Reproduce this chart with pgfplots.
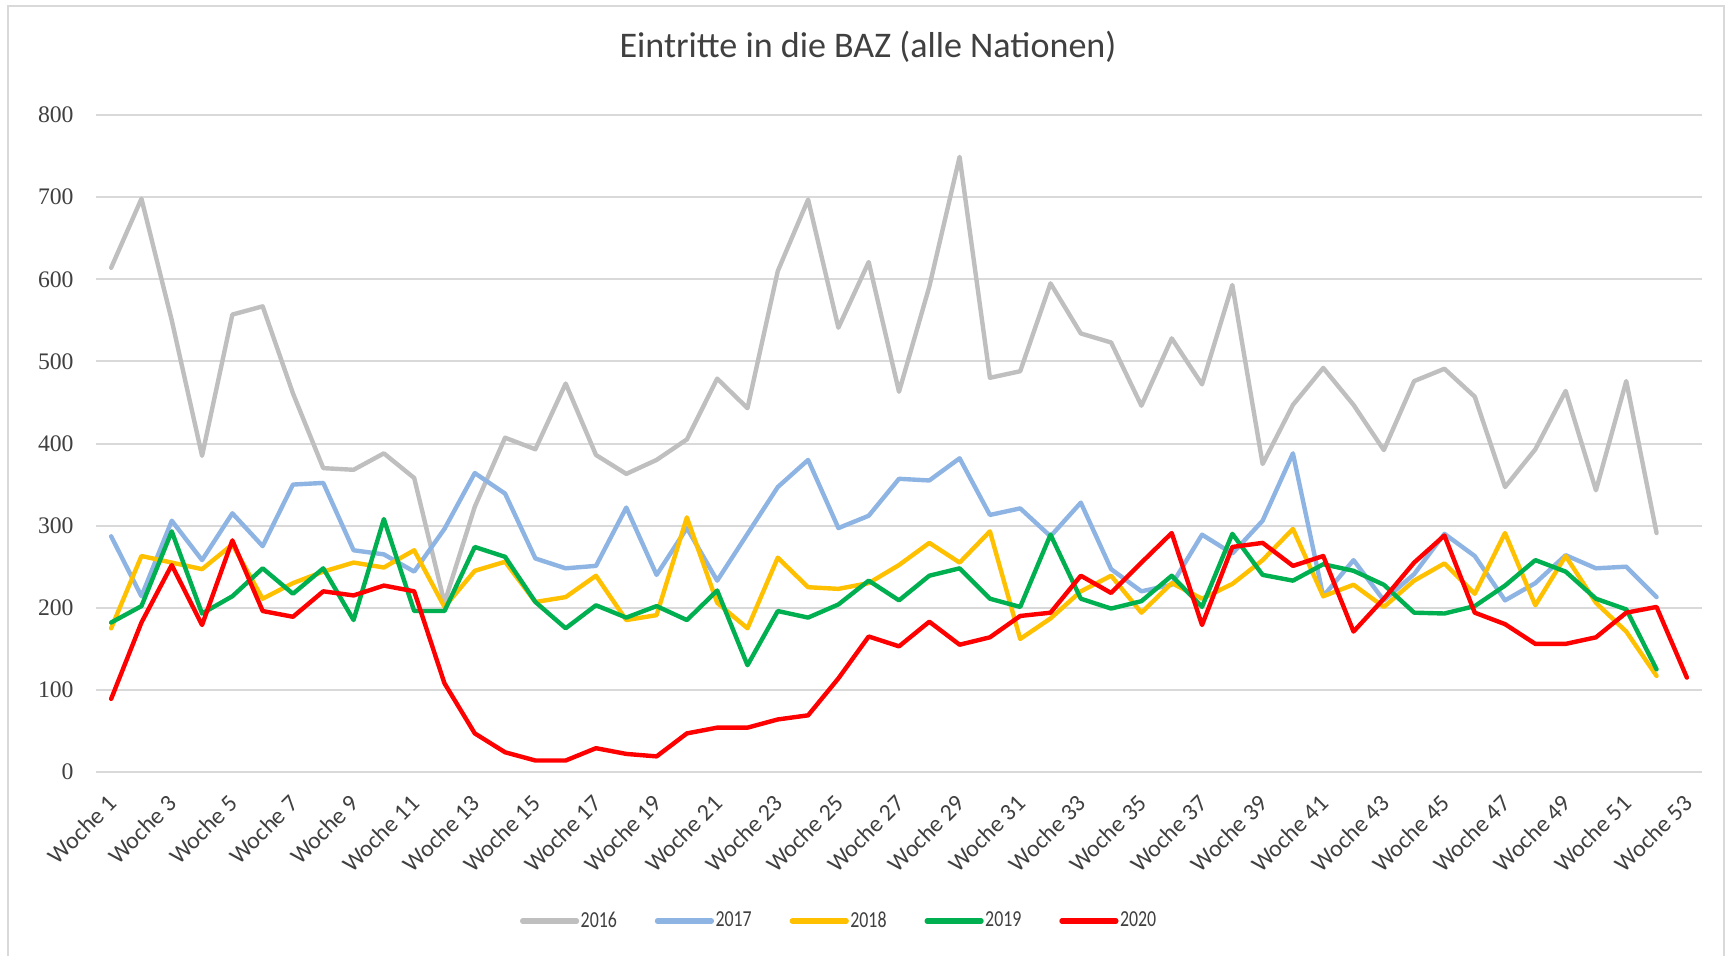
\documentclass[border=0pt]{standalone}
\usepackage{fontspec}
\setmainfont{Carlito}
\newfontfamily\numfont{Liberation Serif}
\newfontfamily\legfont[FakeStretch=0.78]{Carlito}
\usepackage{pgfplots}
\usepackage{pgfplotstable}
\pgfplotsset{compat=1.18}
\definecolor{c16}{HTML}{BFBFBF}
\definecolor{c17}{HTML}{8EB4E3}
\definecolor{c18}{HTML}{FFC000}
\definecolor{c19}{HTML}{00B050}
\definecolor{c20}{HTML}{FF0000}
\definecolor{gridc}{HTML}{D9D9D9}
\definecolor{labc}{HTML}{404040}
\pgfplotstableread{
w a b c d e
1 614 287 175 182 89
2 698 214 263 202 182
3 550 306 255 293 252
4 385 258 247 193 179
5 557 315 277 214 282
6 567 275 211 248 196
7 461 350 230 217 189
8 370 352 244 248 220
9 368 270 255 185 215
10 388 265 249 308 227
11 358 244 270 196 220
12 206 296 201 196 108
13 323 364 245 274 47
14 407 339 256 262 24
15 393 260 207 207 14
16 473 248 213 175 14
17 386 251 239 203 29
18 363 322 185 188 22
19 380 240 191 202 19
20 405 297 310 185 47
21 479 233 206 221 54
22 443 290 175 130 54
23 610 347 261 196 64
24 697 380 225 188 69
25 541 297 223 204 114
26 621 312 230 233 165
27 463 357 252 209 153
28 591 355 279 239 183
29 749 382 255 248 155
30 480 313 293 211 164
31 488 321 162 201 190
32 595 287 187 289 194
33 534 328 220 211 239
34 523 247 239 199 218
35 446 220 194 208 255
36 528 228 230 239 291
37 472 289 211 201 179
38 593 266 229 290 274
39 375 306 258 240 279
40 447 388 296 233 251
41 492 214 214 253 263
42 447 258 228 245 171
43 392 209 201 228 211
44 476 241 233 194 255
45 491 290 254 193 288
46 457 263 217 202 194
47 347 209 291 227 180
48 393 230 203 258 156
49 464 264 263 244 156
50 343 248 206 211 164
51 476 250 171 198 194
52 291 213 117 125 201
53 nan nan nan nan 115
}\data

\begin{document}
\begin{tikzpicture}
\useasboundingbox (0,0) rectangle (864.5bp,478bp);
\fill[white] (0,0) rectangle (864.5bp,478bp);
\draw[gridc, line width=1bp] (4bp,-10bp) -- (4bp,475bp) -- (862bp,475bp) -- (862bp,-10bp);
\begin{axis}[
  at={(48bp,92bp)}, anchor=south west,
  scale only axis, width=803bp, height=328.5bp,
  xmin=0.5, xmax=53.5, ymin=0, ymax=800,
  axis line style={draw=none},
  major tick length=0pt,
  ytick={0,100,...,800},
  ymajorgrids,
  grid style={color=gridc, line width=1bp},
  xtick={1,3,...,53},
  xticklabels={Woche 1,Woche 3,Woche 5,Woche 7,Woche 9,Woche 11,Woche 13,Woche 15,Woche 17,Woche 19,Woche 21,Woche 23,Woche 25,Woche 27,Woche 29,Woche 31,Woche 33,Woche 35,Woche 37,Woche 39,Woche 41,Woche 43,Woche 45,Woche 47,Woche 49,Woche 51,Woche 53},
  /pgf/number format/assume math mode=true,
  yticklabel style={font=\numfont\fontsize{11.9}{13}\selectfont, text=labc, anchor=east, inner sep=0pt, xshift=-11bp},
  xticklabel style={font=\fontsize{12}{13}\selectfont, text=labc, xshift=-2.5bp, yshift=-10.5bp, rotate=45, anchor=north east, inner sep=0pt},
  legend columns=5,
  legend style={at={(0.264,-0.2268)}, anchor=west, draw=none, fill=none, inner sep=0pt, outer sep=0pt,
    font=\legfont\fontsize{11.5}{13}\selectfont, text=labc,
    nodes={inner sep=0.75bp},
    /tikz/every even column/.append style={column sep=18.2bp}},
  legend image code/.code={\draw[#1, line width=2.6bp] (0bp,0bp) -- (27bp,0bp);},
  every axis plot/.append style={line width=2.2bp, line join=round, line cap=round, mark=none},
  clip=false,
]
\addplot[c16] table[x=w, y=a] {\data};
\addlegendentry{2016}
\addplot[c17] table[x=w, y=b] {\data};
\addlegendentry{2017}
\addplot[c18] table[x=w, y=c] {\data};
\addlegendentry{2018}
\addplot[c19] table[x=w, y=d] {\data};
\addlegendentry{2019}
\addplot[c20] table[x=w, y=e] {\data};
\addlegendentry{2020}
\end{axis}
\node[font=\fontsize{18.1}{20}\selectfont, text=labc] at (434bp,454.5bp) {Eintritte in die BAZ (alle Nationen)};
\end{tikzpicture}
\end{document}
